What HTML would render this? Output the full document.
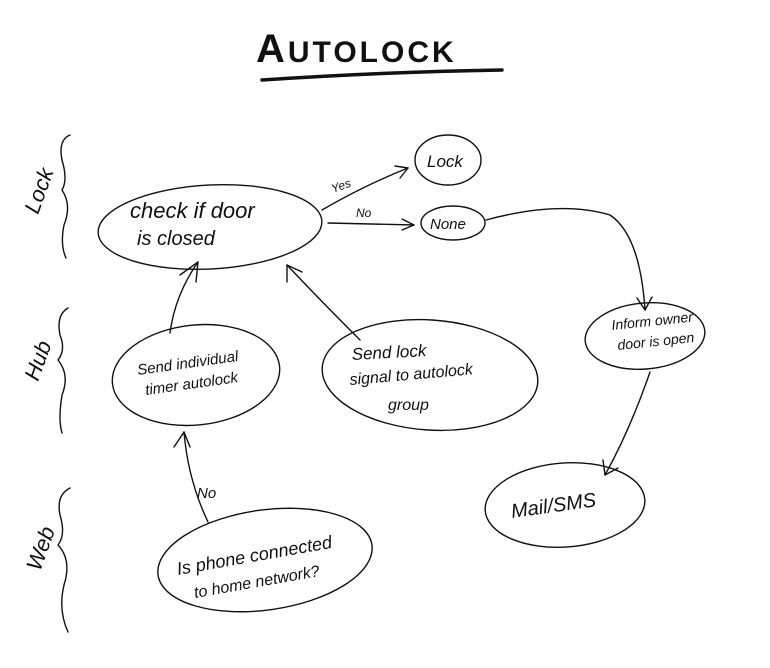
<!DOCTYPE html>
<html><head><meta charset="utf-8"><style>
html,body{margin:0;padding:0;background:#fff;}
svg{display:block;}
text{font-family:"Liberation Sans",sans-serif;font-style:italic;fill:#111;}
</style></head><body>
<svg width="770" height="668" viewBox="0 0 770 668" xmlns="http://www.w3.org/2000/svg">
<g fill="none" stroke="#111" stroke-width="1.4" stroke-linecap="round" stroke-linejoin="round">
<path d="M262 80 Q380 72 502 70" stroke-width="3.5"/>
<path d="M70 135 Q58 140 62 160 Q68 180 62 190 Q72 205 64 225 Q60 245 66 258"/>
<path d="M68 308 Q56 315 60 335 Q66 350 58 360 Q70 375 62 395 Q58 420 62 433"/>
<path d="M70 488 Q56 495 60 515 Q66 535 58 545 Q72 560 64 585 Q58 610 68 632"/>
<ellipse cx="210" cy="227" rx="112" ry="42" transform="rotate(-3 210 227)"/>
<ellipse cx="448" cy="160" rx="33" ry="25"/>
<ellipse cx="453" cy="223" rx="32" ry="17"/>
<ellipse cx="645" cy="336" rx="60" ry="33" transform="rotate(-5 645 336)"/>
<ellipse cx="565" cy="505" rx="80" ry="42" transform="rotate(-4 565 505)"/>
<ellipse cx="196" cy="375" rx="84" ry="50" transform="rotate(-6 196 375)"/>
<ellipse cx="430" cy="375" rx="108" ry="55" transform="rotate(4 430 375)"/>
<ellipse cx="265" cy="560" rx="108" ry="50" transform="rotate(-8 265 560)"/>
<path d="M322 210 Q365 185 408 168"/><path d="M395 166 L408 168 L400 178"/>
<path d="M328 223 L414 225"/><path d="M402 219 L414 225 L402 230"/>
<path d="M486 220 Q560 200 610 215 Q640 235 645 310"/><path d="M637 298 L645 310 L652 297"/>
<path d="M650 372 Q630 430 605 475"/><path d="M603 460 L605 475 L618 468"/>
<path d="M170 333 Q175 295 198 262"/><path d="M180 275 L198 262 L196 282"/>
<path d="M360 340 Q320 300 287 265"/><path d="M287 282 L287 265 L302 272"/>
<path d="M208 522 Q188 480 184 432"/><path d="M174 447 L184 432 L190 447"/>
</g>
<text x="256" y="62" font-size="40" style="font-style:normal;font-weight:bold" letter-spacing="3">A<tspan font-size="30">UTOLOCK</tspan></text>
<text transform="translate(38 215) rotate(-70)" font-size="22">Lock</text>
<text transform="translate(38 382) rotate(-70)" font-size="22">Hub</text>
<text transform="translate(40 572) rotate(-70)" font-size="22">Web</text>
<text x="130" y="218" font-size="22">check if door</text>
<text x="137" y="245" font-size="20">is closed</text>
<text x="427" y="167" font-size="17">Lock</text>
<text x="430" y="229" font-size="15">None</text>
<text transform="translate(612 330) rotate(-6)" font-size="14">Inform owner</text>
<text transform="translate(618 350) rotate(-6)" font-size="14">door is open</text>
<text transform="translate(512 518) rotate(-8)" font-size="20">Mail/SMS</text>
<text transform="translate(138 375) rotate(-8)" font-size="15">Send individual</text>
<text transform="translate(146 395) rotate(-8)" font-size="15">timer autolock</text>
<text transform="translate(352 360) rotate(-3)" font-size="17">Send lock</text>
<text transform="translate(350 385) rotate(-5)" font-size="16">signal to autolock</text>
<text x="388" y="410" font-size="16">group</text>
<text transform="translate(178 575) rotate(-10)" font-size="18">Is phone connected</text>
<text transform="translate(195 598) rotate(-10)" font-size="16">to home network?</text>
<text transform="translate(333 193) rotate(-20)" font-size="12">Yes</text>
<text x="356" y="217" font-size="12">No</text>
<text x="197" y="498" font-size="15">No</text>
</svg>
</body></html>
